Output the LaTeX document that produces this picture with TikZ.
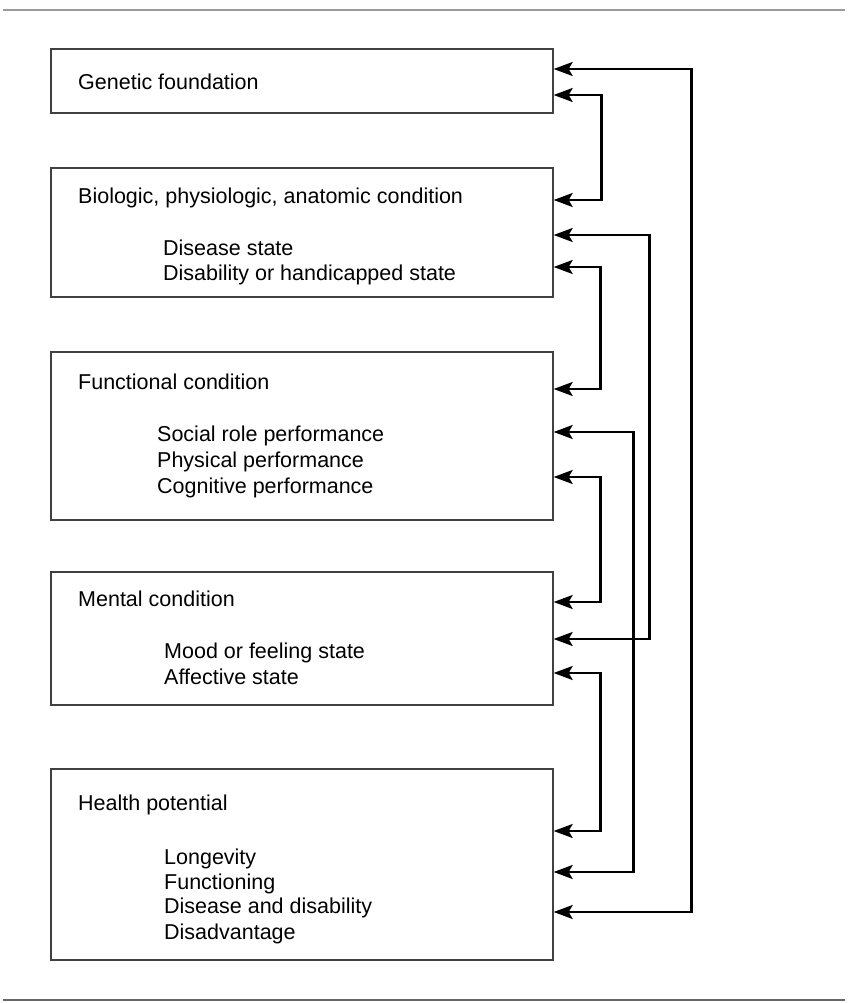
\documentclass[tikz,border=0pt]{standalone}
\usepackage{fontspec}
\setmainfont{Liberation Sans}
\usetikzlibrary{arrows.meta}
\begin{document}
\begin{tikzpicture}[x=1pt,y=-1pt,
  box/.style={draw=black!75,line width=1.3pt,minimum width=502pt,inner sep=0pt,anchor=center},
  txt/.style={anchor=base west,inner sep=0pt,font=\fontsize{21.5}{25}\selectfont},
  tip/.style={},
  conn/.style={line width=2.4pt,{Stealth[length=19pt,width=14pt,inset=4pt]}-{Stealth[length=19pt,width=14pt,inset=4pt]}},
  rulel/.style={line width=1.8pt}]
\useasboundingbox (0,0) rectangle (848,1003);
\draw[rulel,draw=black!40] (3,10) -- (845,10);
\draw[rulel,draw=black!60] (3,1000) -- (845,1000);
% boxes
\node[box,minimum height=64pt] (gen) at (302,81) {};
\node[box,minimum height=129pt] (bio) at (302,232.5) {};
\node[box,minimum height=168pt] (fun) at (302,436) {};
\node[box,minimum height=133pt] (men) at (302,638.5) {};
\node[box,minimum height=191pt] (hp) at (302,864.5) {};
% texts
\node[txt] (t1) at (78,90) {Genetic foundation};
\node[txt] (t2) at (78,204) {Biologic, physiologic, anatomic condition};
\node[txt] (t2a) at (163,255) {Disease state};
\node[txt] (t2b) at (163,280) {Disability or handicapped state};
\node[txt] (t3) at (78,389) {Functional condition};
\node[txt] (t3a) at (157,441) {Social role performance};
\node[txt] (t3b) at (157,467) {Physical performance};
\node[txt] (t3c) at (157,493) {Cognitive performance};
\node[txt] (t4) at (78,606) {Mental condition};
\node[txt] (t4a) at (164,658) {Mood or feeling state};
\node[txt] (t4b) at (164,684) {Affective state};
\node[txt] (t5) at (78,810) {Health potential};
\node[txt] (t5a) at (164,864) {Longevity};
\node[txt] (t5b) at (164,889) {Functioning};
\node[txt] (t5c) at (164,913) {Disease and disability};
\node[txt] (t5d) at (164,939) {Disadvantage};
% connectors
\draw[conn] (gen.east |- 0,69) -- ++(138,0) |- (hp.east |- 0,912);
\draw[conn] (gen.east |- 0,95) -- ++(48,0) |- (bio.east |- 0,200);
\draw[conn] (bio.east |- 0,235) -- ++(96,0) |- (men.east |- 0,639);
\draw[conn] (bio.east |- 0,267) -- ++(47,0) |- (fun.east |- 0,389);
\draw[conn] (fun.east |- 0,432) -- ++(80,0) |- (hp.east |- 0,872);
\draw[conn] (fun.east |- 0,477) -- ++(47,0) |- (men.east |- 0,602);
\draw[conn] (men.east |- 0,673) -- ++(47,0) |- (hp.east |- 0,831);
\end{tikzpicture}
\end{document}
